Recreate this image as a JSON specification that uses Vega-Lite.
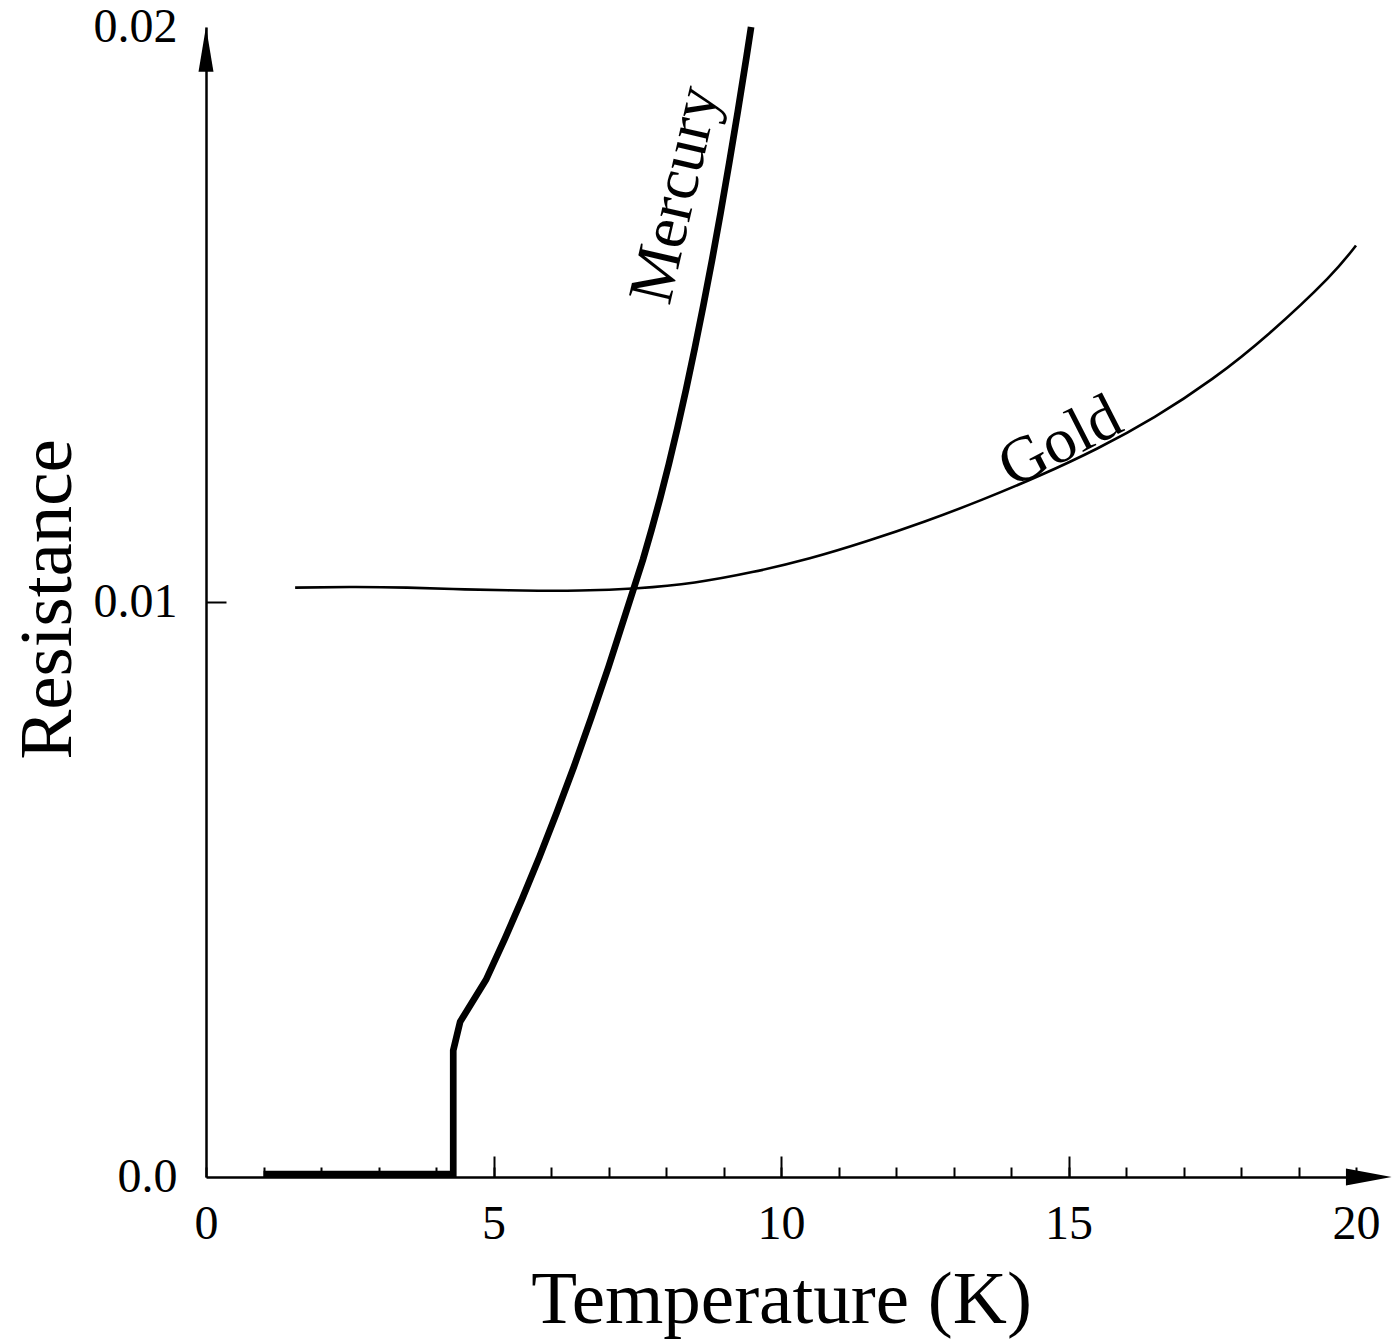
{
  "$schema": "https://vega.github.io/schema/vega-lite/v6.json",
  "width": 1150,
  "height": 1150,
  "autosize": "none",
  "padding": {"left": 206, "top": 27, "right": 37, "bottom": 165},
  "background": "white",
  "config": {
    "view": {"stroke": null},
    "axis": {
      "labelFont": "Liberation Serif",
      "labelFontSize": 48,
      "labelColor": "black",
      "titleFont": "Liberation Serif",
      "titleFontSize": 75,
      "titleFontWeight": "normal",
      "titleColor": "black",
      "domainColor": "black",
      "tickColor": "black",
      "grid": false,
      "labelFlush": false,
      "labelOverlap": false,
      "labelBound": false
    }
  },
  "datasets": {
    "gold": [
      {"T": 1.55, "R": 0.01025}, {"T": 2.5, "R": 0.01026}, {"T": 3.5, "R": 0.01025},
      {"T": 4.5, "R": 0.01022}, {"T": 5.5, "R": 0.0102}, {"T": 6.5, "R": 0.0102},
      {"T": 7.5, "R": 0.01024}, {"T": 8.5, "R": 0.01034}, {"T": 9.5, "R": 0.01052},
      {"T": 10.5, "R": 0.01076}, {"T": 11.5, "R": 0.01106}, {"T": 12.5, "R": 0.0114},
      {"T": 13.5, "R": 0.01178}, {"T": 14.5, "R": 0.0122}, {"T": 15.5, "R": 0.01267},
      {"T": 16.5, "R": 0.01322}, {"T": 17.5, "R": 0.01388}, {"T": 18.5, "R": 0.01468},
      {"T": 19.5, "R": 0.01562}, {"T": 20.0, "R": 0.0162}
    ],
    "mercury": [
      {"seq": 1, "T": 1.0, "R": 0.00005}, {"seq": 2, "T": 4.3, "R": 0.00005},
      {"seq": 3, "T": 4.3, "R": 0.0022}, {"seq": 4, "T": 4.42, "R": 0.0027},
      {"seq": 5, "T": 4.87, "R": 0.00343}, {"seq": 6, "T": 5.2, "R": 0.00415},
      {"seq": 7, "T": 5.5, "R": 0.00484}, {"seq": 8, "T": 5.8, "R": 0.00557},
      {"seq": 9, "T": 6.1, "R": 0.00634}, {"seq": 10, "T": 6.4, "R": 0.00714},
      {"seq": 11, "T": 6.7, "R": 0.00799}, {"seq": 12, "T": 7.0, "R": 0.00887},
      {"seq": 13, "T": 7.2, "R": 0.00949}, {"seq": 14, "T": 7.44, "R": 0.01024},
      {"seq": 15, "T": 7.6, "R": 0.01074}, {"seq": 16, "T": 7.75, "R": 0.01126},
      {"seq": 17, "T": 7.9, "R": 0.01181}, {"seq": 18, "T": 8.05, "R": 0.0124},
      {"seq": 19, "T": 8.2, "R": 0.01303}, {"seq": 20, "T": 8.35, "R": 0.0137},
      {"seq": 21, "T": 8.5, "R": 0.01441}, {"seq": 22, "T": 8.65, "R": 0.01516},
      {"seq": 23, "T": 8.8, "R": 0.01594}, {"seq": 24, "T": 8.95, "R": 0.01677},
      {"seq": 25, "T": 9.1, "R": 0.01764}, {"seq": 26, "T": 9.25, "R": 0.01854},
      {"seq": 27, "T": 9.4, "R": 0.01948}, {"seq": 28, "T": 9.48, "R": 0.02}
    ],
    "one": [{}]
  },
  "layer": [
    {
      "data": {"name": "gold"},
      "mark": {"type": "line", "color": "black", "strokeWidth": 2.6, "interpolate": "natural"},
      "encoding": {
        "x": {
          "field": "T", "type": "quantitative",
          "scale": {"domain": [0, 20], "nice": false, "zero": false},
          "axis": {
            "orient": "bottom",
            "values": [5, 10, 15],
            "tickSize": -21,
            "tickWidth": 2,
            "labels": false,
            "domain": true,
            "domainWidth": 2.5,
            "title": "Temperature (K)",
            "titleX": 575,
            "titleY": 145,
            "titleAlign": "center",
            "titleBaseline": "alphabetic",
            "titleAnchor": null
          }
        },
        "y": {
          "field": "R", "type": "quantitative",
          "scale": {"domain": [0, 0.02], "nice": false, "zero": false},
          "axis": {
            "orient": "left",
            "values": [0, 0.01, 0.02],
            "ticks": false,
            "labelPadding": 29,
            "labelExpr": "datum.value == 0 ? '0.0' : format(datum.value, '.2f')",
            "domain": true,
            "domainWidth": 2.5,
            "title": "Resistance",
            "titleAngle": -90,
            "titleX": -136,
            "titleY": 572,
            "titleAlign": "center",
            "titleBaseline": "alphabetic",
            "titleAnchor": null
          }
        }
      }
    },
    {
      "data": {"name": "mercury"},
      "mark": {"type": "line", "color": "black", "strokeWidth": 6.7, "strokeJoin": "miter"},
      "encoding": {
        "x": {
          "field": "T", "type": "quantitative",
          "scale": {"domain": [0, 20], "nice": false, "zero": false},
          "axis": {
            "orient": "bottom",
            "values": [0, 1, 2, 3, 4, 5, 6, 7, 8, 9, 10, 11, 12, 13, 14, 15, 16, 17, 18, 19, 20],
            "tickSize": -10,
            "tickWidth": 2,
            "domain": false,
            "labelBaseline": "middle",
            "labelPadding": 57,
            "labelExpr": "datum.value % 5 === 0 ? datum.label : ''",
            "title": null
          }
        },
        "y": {
          "field": "R", "type": "quantitative",
          "scale": {"domain": [0, 0.02], "nice": false, "zero": false},
          "axis": {
            "orient": "left",
            "values": [0.01],
            "tickSize": -20,
            "tickWidth": 2,
            "labels": false,
            "domain": false,
            "title": null
          }
        },
        "order": {"field": "seq", "type": "quantitative"}
      }
    },
    {
      "data": {"name": "one"},
      "mark": {"type": "text", "font": "Liberation Serif", "fontSize": 64, "angle": -77, "align": "center", "baseline": "middle", "color": "black"},
      "encoding": {
        "x": {"datum": 8.17, "type": "quantitative", "scale": {"domain": [0, 20], "nice": false, "zero": false}, "axis": null},
        "y": {"datum": 0.01708, "type": "quantitative", "scale": {"domain": [0, 0.02], "nice": false, "zero": false}, "axis": null},
        "text": {"value": "Mercury"}
      }
    },
    {
      "data": {"name": "one"},
      "mark": {"type": "text", "font": "Liberation Serif", "fontSize": 64, "angle": -27, "align": "center", "baseline": "middle", "color": "black"},
      "encoding": {
        "x": {"datum": 14.86, "type": "quantitative", "scale": {"domain": [0, 20], "nice": false, "zero": false}, "axis": null},
        "y": {"datum": 0.01278, "type": "quantitative", "scale": {"domain": [0, 0.02], "nice": false, "zero": false}, "axis": null},
        "text": {"value": "Gold"}
      }
    },
    {
      "data": {"name": "one"},
      "mark": {"type": "point", "filled": true, "color": "black", "opacity": 1, "size": 2088, "shape": "M-1,-0.372L1,0L-1,0.372Z"},
      "encoding": {
        "x": {"datum": 20.222, "type": "quantitative", "scale": {"domain": [0, 20], "nice": false, "zero": false}, "axis": null},
        "y": {"datum": 0, "type": "quantitative", "scale": {"domain": [0, 0.02], "nice": false, "zero": false}, "axis": null}
      }
    },
    {
      "data": {"name": "one"},
      "mark": {"type": "point", "filled": true, "color": "black", "opacity": 1, "size": 2025, "shape": "M-0.333,1L0,-1L0.333,1Z"},
      "encoding": {
        "x": {"datum": 0, "type": "quantitative", "scale": {"domain": [0, 20], "nice": false, "zero": false}, "axis": null},
        "y": {"datum": 0.019614, "type": "quantitative", "scale": {"domain": [0, 0.02], "nice": false, "zero": false}, "axis": null}
      }
    }
  ],
  "resolve": {"axis": {"x": "independent", "y": "independent"}}
}
